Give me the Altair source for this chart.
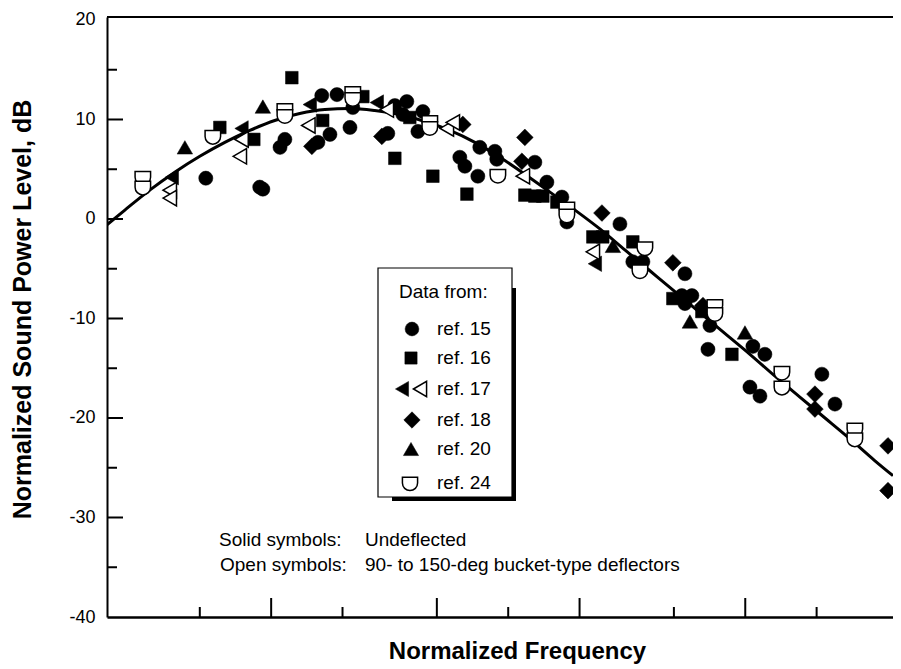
import altair as alt
import pandas as pd

FONT = "Liberation Sans"

# ---- data (normalized frequency on an unlabeled log axis, dB) ----
ref15_f = [0.106, 0.179, 0.1845, 0.218, 0.2285, 0.315, 0.354, 0.327, 0.379, 0.442, 0.43,
           0.621, 0.665, 0.747, 0.719, 0.873, 0.832, 1.25, 1.313, 1.489, 1.518, 1.757, 1.79,
           2.591, 2.912, 3.369, 3.536, 5.92, 6.71, 7.40, 11.13, 10.8, 11.91, 11.13, 14.19,
           13.92, 21.54, 24.2, 20.93, 23.07, 42.1, 47.8]
ref15_db = [4.1, 3.2, 3.0, 7.2, 8.0, 7.7, 8.5, 12.4, 12.5, 11.2, 9.2,
            8.6, 11.4, 11.8, 10.5, 10.8, 8.8, 6.2, 5.3, 4.3, 7.2, 6.8, 6.0,
            5.7, 3.7, 2.2, -0.3, -0.5, -4.3, -4.3, -5.5, -7.7, -7.7, -8.5, -10.7,
            -13.1, -12.8, -13.6, -16.9, -17.8, -15.6, -18.6]

ref16_f = [0.1215, 0.169, 0.2445, 0.33, 0.4874, 0.665, 0.962, 1.339, 2.351, 2.591, 2.80,
           3.209, 4.551, 5.01, 6.71, 9.90, 13.12, 17.57, 0.769]
ref16_db = [9.2, 8.0, 14.2, 9.9, 12.3, 6.1, 4.3, 2.5, 2.4, 2.3, 2.3,
            1.7, -1.8, -1.8, -2.3, -8.0, -9.3, -13.6, 10.2]

ref17_solid_f = [0.0762, 0.150, 0.291, 0.558, 4.641]
ref17_solid_db = [4.2, 9.1, 11.5, 11.7, -4.5]
ref17_open_f = [0.0747, 0.0747, 0.150, 0.1475, 0.287, 0.615, 1.102, 1.168, 2.306, 4.551]
ref17_open_db = [2.9, 2.1, 8.0, 6.3, 9.4, 11.0, 9.1, 9.7, 4.3, -3.3]

ref18_f = [0.297, 0.586, 1.287, 2.351, 2.284, 4.97, 9.90, 13.26, 39.35, 39.35, 80.0, 80.0]
ref18_db = [7.3, 8.3, 9.5, 8.2, 5.8, 0.6, -4.4, -8.7, -17.6, -19.1, -22.8, -27.3]

ref20_f = [0.0865, 0.1845, 5.53, 11.68, 19.94]
ref20_db = [7.2, 11.3, -2.7, -10.3, -11.4]

ref24_f = [0.0575, 0.0575, 0.1135, 0.2285, 0.2285, 0.442, 0.442, 0.934, 0.934, 1.809,
           3.536, 3.536, 7.545, 7.19, 14.89, 14.89, 28.56, 28.56, 58.0, 58.0]
ref24_db = [4.2, 3.2, 8.3, 11.0, 10.4, 12.7, 12.1, 9.8, 9.2, 4.4,
            1.1, 0.4, -2.9, -5.2, -8.7, -9.5, -15.4, -16.9, -21.1, -22.1]

curve_f = [0.0405, 0.0483, 0.0615, 0.0784, 0.1, 0.1275, 0.1625, 0.207, 0.264, 0.337, 0.43,
           0.547, 0.698, 0.89, 1.135, 1.447, 1.845, 2.351, 3.0, 3.823, 4.873, 6.21, 7.92,
           10.1, 12.87, 16.4, 20.93, 26.7, 34.0, 43.4, 55.3, 70.5, 84.0]
curve_db = [-0.6, 0.9, 2.9, 4.7, 6.3, 7.7, 8.9, 9.9, 10.6, 11.0, 11.1,
            10.9, 10.5, 9.8, 8.9, 7.7, 6.2, 4.5, 2.7, 0.9, -1.0, -3.1, -5.2,
            -7.3, -9.4, -11.5, -13.6, -15.8, -17.9, -20.0, -22.1, -24.3, -25.8]

x_ticks_major = [0.2, 1, 4, 20]
x_ticks_minor = [0.1, 0.4, 2, 10, 40]
y_ticks_major = [10, 0, -10, -20, -30]
y_ticks_minor = [15, 5, -5, -15, -25, -35]
y_labels = [20, 10, 0, -10, -20, -30, -40]

legend_title = "Data from:"
legend_labels = ["ref. 15", "ref. 16", "ref. 17", "ref. 18", "ref. 20", "ref. 24"]
note_keys = ["Solid symbols:", "Open symbols:"]
note_vals = ["Undeflected", "90- to 150-deg bucket-type deflectors"]

CUP = "M-1,-0.75L1,-0.75L1,0A1,1,0,0,1,-1,0Z"

# ---- scales & axes ----
W, H = 786, 600
xs = alt.Scale(type="log", domain=[0.0406, 84], nice=False)
ys = alt.Scale(domain=[-40, 20.3], nice=False, zero=False)

x_axis = alt.Axis(title="Normalized Frequency", labels=False, ticks=False, grid=False,
                  domainColor="black", domainWidth=2.5, titleFontSize=24,
                  titleFontWeight="bold", titleColor="black", titleX=410, titleY=41,
                  titleBaseline="alphabetic", titleAlign="center")
y_axis = alt.Axis(title="Normalized Sound Power Level, dB", values=y_labels, ticks=False,
                  tickSize=0, labelPadding=12, labelFontSize=18, labelColor="black",
                  labelExpr="'' + datum.value", grid=False, domainColor="black",
                  domainWidth=2, titleFontSize=25, titleFontWeight="bold",
                  titleColor="black", titleAngle=-90, titleX=-85, titleY=292,
                  titleBaseline="middle", titleAlign="center")


def X():
    return alt.X("f:Q", scale=xs, axis=x_axis)


def Y():
    return alt.Y("v:Q", scale=ys, axis=y_axis)


def df(f, v):
    return pd.DataFrame({"f": f, "v": v})


layers = []

# fitted curve
layers.append(alt.Chart(df(curve_f, curve_db)).mark_line(
    color="black", strokeWidth=3, interpolate="monotone", clip=True).encode(x=X(), y=Y()))

# top frame line
layers.append(alt.Chart(pd.DataFrame({"v": [20.3]})).mark_rule(
    color="black", strokeWidth=2).encode(y=Y(), x=alt.value(0), x2=alt.value(W)))

# inward ticks
layers.append(alt.Chart(pd.DataFrame({"f": x_ticks_major})).mark_rule(
    color="black", strokeWidth=2).encode(x=X(), y=alt.value(H), y2=alt.value(H - 19)))
layers.append(alt.Chart(pd.DataFrame({"f": x_ticks_minor})).mark_rule(
    color="black", strokeWidth=2).encode(x=X(), y=alt.value(H), y2=alt.value(H - 10)))
layers.append(alt.Chart(pd.DataFrame({"v": y_ticks_major})).mark_rule(
    color="black", strokeWidth=2).encode(y=Y(), x=alt.value(0), x2=alt.value(16)))
layers.append(alt.Chart(pd.DataFrame({"v": y_ticks_minor})).mark_rule(
    color="black", strokeWidth=2).encode(y=Y(), x=alt.value(0), x2=alt.value(10)))


def solid(f, v, shape, size):
    return alt.Chart(df(f, v)).mark_point(
        shape=shape, filled=True, fill="black", stroke="black", strokeWidth=0.5,
        size=size, opacity=1).encode(x=X(), y=Y())


def hollow(f, v, shape, size):
    return alt.Chart(df(f, v)).mark_point(
        shape=shape, filled=True, fill="white", stroke="black", strokeWidth=1.5,
        size=size, opacity=1).encode(x=X(), y=Y())


layers += [
    solid(ref16_f, ref16_db, "square", 160),
    solid(ref15_f, ref15_db, "circle", 200),
    solid(ref18_f, ref18_db, "diamond", 280),
    solid(ref20_f, ref20_db, "triangle-up", 240),
    solid(ref17_solid_f, ref17_solid_db, "triangle-left", 240),
    hollow(ref17_open_f, ref17_open_db, "triangle-left", 240),
    hollow(ref24_f, ref24_db, CUP, 240),
]

one = alt.Data(values=[{}])


def txt(s, x, y, size=19, baseline="middle"):
    return alt.Chart(one).mark_text(
        text=s, fontSize=size, align="left", baseline=baseline, color="black"
    ).encode(x=alt.value(x), y=alt.value(y))


def sym(x, y, shape, size, open_=False):
    return alt.Chart(one).mark_point(
        shape=shape, filled=True, fill="white" if open_ else "black", stroke="black",
        strokeWidth=1.5 if open_ else 0.5, size=size, opacity=1
    ).encode(x=alt.value(x), y=alt.value(y))


# legend box with drop shadow
layers.append(alt.Chart(one).mark_rect(color="black").encode(
    x=alt.value(285), x2=alt.value(409), y=alt.value(271), y2=alt.value(484)))
layers.append(alt.Chart(one).mark_rect(fill="white", stroke="black", strokeWidth=1.2).encode(
    x=alt.value(271), x2=alt.value(405), y=alt.value(251), y2=alt.value(480)))

layers.append(txt(legend_title, 292, 275))
rows_y = [312, 341, 372, 403, 432, 466]
layers += [
    sym(305, rows_y[0], "circle", 190),
    sym(304, rows_y[1], "square", 150),
    sym(295, rows_y[2], "triangle-left", 230),
    sym(313, rows_y[2], "triangle-left", 230, open_=True),
    sym(305, rows_y[3], "diamond", 270),
    sym(304, rows_y[4], "triangle-up", 230),
    sym(303, rows_y[5], CUP, 230, open_=True),
]
for lab, yy in zip(legend_labels, rows_y):
    layers.append(txt(lab, 330, yy))

# notes
layers.append(txt(note_keys[0], 112, 529, baseline="alphabetic"))
layers.append(txt(note_vals[0], 258, 529, baseline="alphabetic"))
layers.append(txt(note_keys[1], 113, 554, baseline="alphabetic"))
layers.append(txt(note_vals[1], 258, 554, baseline="alphabetic"))

chart = alt.layer(*layers).properties(
    width=W, height=H,
    autosize=alt.AutoSizeParams(type="none"),
    padding={"left": 99, "top": 9, "right": 0, "bottom": 52},
).configure_view(stroke=None).configure_axis(
    labelFont=FONT, titleFont=FONT
).configure_text(font=FONT)

chart.save("out.html", embed_options={"renderer": "svg", "actions": False})
